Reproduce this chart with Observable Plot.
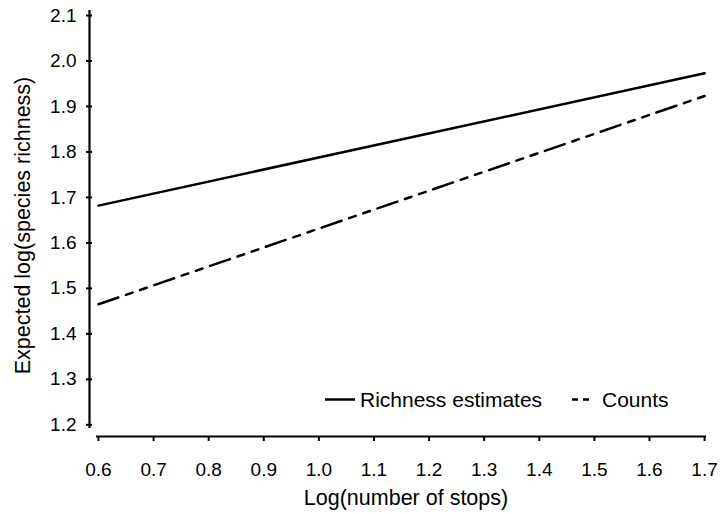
<!DOCTYPE html>
<html>
<head>
<meta charset="utf-8">
<script src="https://cdn.jsdelivr.net/npm/d3@7"></script>
<script src="https://cdn.jsdelivr.net/npm/@observablehq/plot@0.6"></script>
<style>
  html, body { margin: 0; padding: 0; background: #fff; }
  #chart { position: relative; width: 724px; height: 514px; }
  #chart svg { display: block; }
  #legend { position: absolute; left: 0; top: 0; pointer-events: none; }
</style>
</head>
<body>
<div id="chart"></div>
<script>
// ---- data ----
const logStops = [0.6, 1.7];
const richnessEstimates = [1.682, 1.973];
const counts = [1.465, 1.923];
const seriesNames = ["Richness estimates", "Counts"];
const xTicks = [0.6, 0.7, 0.8, 0.9, 1.0, 1.1, 1.2, 1.3, 1.4, 1.5, 1.6, 1.7];
const yTicks = [1.2, 1.3, 1.4, 1.5, 1.6, 1.7, 1.8, 1.9, 2.0, 2.1];
const xTitle = "Log(number of stops)";
const yTitle = "Expected log(species richness)";

// ---- layout ----
const xDomain = [0.5837, 1.7035];
const yDomain = [1.1743, 2.111];
const yAxisBottom = 1.192;   // where the drawn y axis line stops
const xAxisLeft = 0.5964;    // where the drawn x axis line starts
const font = "'Liberation Sans', Arial, Helvetica, sans-serif";
const dash = "21,8,7,8,7,8";

const richRows = logStops.map((x, i) => ({x, y: richnessEstimates[i]}));
const countRows = logStops.map((x, i) => ({x, y: counts[i]}));

const plot = Plot.plot({
  width: 724,
  height: 514,
  marginLeft: 89,
  marginRight: 18,
  marginTop: 10,
  marginBottom: 78,
  style: {fontFamily: font, fontSize: "19px", color: "#000", background: "#fff"},
  x: {domain: xDomain},
  y: {domain: yDomain},
  marks: [
    Plot.ruleX([xDomain[0]], {y1: yAxisBottom, y2: yDomain[1], stroke: "#000", strokeWidth: 2.2}),
    Plot.ruleY([yDomain[0]], {x1: xAxisLeft, x2: xDomain[1], stroke: "#000", strokeWidth: 2.2}),
    Plot.axisX({ticks: xTicks, tickFormat: ".1f", tickSize: 5, tickPadding: 21, fontSize: 19, strokeWidth: 2, label: null}),
    Plot.axisY({ticks: yTicks, tickFormat: ".1f", tickSize: 6, dx: 3, tickPadding: 10, fontSize: 19, strokeWidth: 2, label: null}),
    Plot.text([xTitle], {text: d => d, frameAnchor: "bottom", textAnchor: "middle", lineAnchor: "middle", dx: 8, dy: 62, fontSize: 21.5, fill: "#000"}),
    Plot.text([yTitle], {text: d => d, frameAnchor: "left", textAnchor: "middle", lineAnchor: "middle", rotate: -90, dx: -66, dy: 2, fontSize: 21.5, fill: "#000"}),
    Plot.line(richRows, {x: "x", y: "y", stroke: "#000", strokeWidth: 2.5}),
    Plot.line(countRows, {x: "x", y: "y", stroke: "#000", strokeWidth: 2.5, strokeDasharray: dash})
  ]
});

const chart = document.getElementById("chart");
chart.appendChild(plot);

// ---- legend overlay ----
const ns = "http://www.w3.org/2000/svg";
const leg = document.createElementNS(ns, "svg");
leg.setAttribute("id", "legend");
leg.setAttribute("width", 724);
leg.setAttribute("height", 514);
const entries = [
  {name: seriesNames[0], x: 325, w: 30, dash: null, tx: 360},
  {name: seriesNames[1], x: 572, w: 18, dash: "6,5", tx: 602}
];
for (const e of entries) {
  const l = document.createElementNS(ns, "line");
  l.setAttribute("x1", e.x); l.setAttribute("x2", e.x + e.w);
  l.setAttribute("y1", 399.5); l.setAttribute("y2", 399.5);
  l.setAttribute("stroke", "#000"); l.setAttribute("stroke-width", 2.5);
  if (e.dash) l.setAttribute("stroke-dasharray", e.dash);
  leg.appendChild(l);
  const t = document.createElementNS(ns, "text");
  t.setAttribute("x", e.tx); t.setAttribute("y", 406.7);
  t.setAttribute("font-family", font); t.setAttribute("font-size", 21);
  t.setAttribute("fill", "#000");
  t.textContent = e.name;
  leg.appendChild(t);
}
chart.appendChild(leg);
</script>
</body>
</html>
